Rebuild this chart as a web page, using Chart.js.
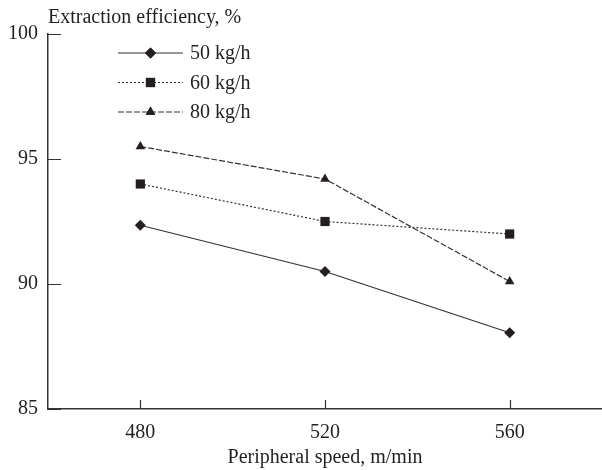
<!DOCTYPE html>
<html lang="en">
<head>
<meta charset="UTF-8">
<title>Extraction efficiency</title>
<script src="https://cdn.jsdelivr.net/npm/chart.js"></script>
<style>
  html, body { margin: 0; padding: 0; background: #fff; }
  #wrap { position: relative; width: 602px; height: 470px; }
</style>
</head>
<body>
<div id="wrap"><canvas id="myChart" width="602" height="470"></canvas></div>
<script>
  // data
  const speeds = [480, 520, 560];
  const feed50 = [92.35, 90.5, 88.05];
  const feed60 = [94.0, 92.5, 92.0];
  const feed80 = [95.5, 94.2, 90.1];
  const seriesNames = ['50 kg/h', '60 kg/h', '80 kg/h'];
  const yTicks = [85, 90, 95, 100];

  const ink = '#231f20';
  const fontFam = '"Liberation Serif", "DejaVu Serif", serif';

  function pts(vals) {
    return speeds.map(function (s, i) { return { x: s, y: vals[i] }; });
  }

  function serie(name, vals, shape, radius, dash) {
    return {
      label: name,
      data: pts(vals),
      borderColor: '#333',
      backgroundColor: ink,
      borderWidth: 1.2,
      borderDash: dash,
      pointStyle: shape,
      pointRadius: radius,
      pointBorderWidth: 0,
      pointBackgroundColor: ink,
      tension: 0
    };
  }

  // inward tick marks + y title + legend with line samples
  const extras = {
    id: 'extras',
    afterDraw: function (chart) {
      const ctx = chart.ctx;
      const a = chart.chartArea;
      const xs = chart.scales.x, ys = chart.scales.y;
      ctx.save();
      ctx.strokeStyle = '#333';
      ctx.lineWidth = 1.2;
      ctx.beginPath();
      yTicks.forEach(function (v) {
        const py = Math.round(ys.getPixelForValue(v)) + 0.5;
        ctx.moveTo(a.left, py);
        ctx.lineTo(a.left + 13, py);
      });
      speeds.forEach(function (v) {
        const px = Math.round(xs.getPixelForValue(v)) + 0.5;
        ctx.moveTo(px, a.bottom);
        ctx.lineTo(px, a.bottom - 9);
      });
      ctx.stroke();

      ctx.fillStyle = ink;
      ctx.font = '20px ' + fontFam;
      ctx.textBaseline = 'middle';
      ctx.textAlign = 'left';
      ctx.fillText('Extraction efficiency, %', a.left, a.top - 16);

      // legend
      chart.data.datasets.forEach(function (ds, i) {
        const y = a.top + 19 + i * 29.5;
        const x0 = a.left + 70, x1 = a.left + 135, xm = (x0 + x1) / 2;
        ctx.strokeStyle = ds.borderColor;
        ctx.lineWidth = ds.borderWidth;
        ctx.setLineDash(ds.borderDash || []);
        ctx.beginPath();
        ctx.moveTo(x0, y);
        ctx.lineTo(x1, y);
        ctx.stroke();
        ctx.setLineDash([]);
        ctx.fillStyle = ink;
        Chart.helpers.drawPoint(ctx, { pointStyle: ds.pointStyle, radius: ds.pointRadius, borderWidth: 0 }, xm, y);
        ctx.fill();
        ctx.fillText(ds.label, x1 + 7, y + 1);
      });
      ctx.restore();
    }
  };

  const dados = {
    datasets: [
      serie(seriesNames[0], feed50, 'rectRot', 5.5, []),
      serie(seriesNames[1], feed60, 'rect', 6.5, [2, 2]),
      serie(seriesNames[2], feed80, 'triangle', 5.5, [6, 2])
    ]
  };

  const config = {
    type: 'line',
    data: dados,
    options: {
      responsive: false,
      animation: false,
      layout: { autoPadding: false, padding: { top: 34, right: 0, left: 0, bottom: 0 } },
      plugins: {
        legend: { display: false },
        tooltip: { enabled: false }
      },
      scales: {
        x: {
          type: 'linear',
          min: 460,
          max: 580,
          afterBuildTicks: function (axis) {
            axis.ticks = speeds.map(function (v) { return { value: v }; });
          },
          afterFit: function (axis) { axis.height = 61; },
          grid: { display: false, drawTicks: false, tickLength: 0 },
          border: { display: true, color: '#333', width: 1.5 },
          ticks: { color: ink, padding: 12, maxRotation: 0, font: { family: fontFam, size: 20 } },
          title: {
            display: true,
            text: 'Peripheral speed, m/min',
            color: ink,
            padding: { top: 0, bottom: 0 },
            font: { family: fontFam, size: 20 }
          }
        },
        y: {
          min: 85,
          max: 100,
          afterBuildTicks: function (axis) {
            axis.ticks = yTicks.map(function (v) { return { value: v }; });
          },
          afterFit: function (axis) { axis.width = 48; },
          grid: { display: false, drawTicks: false, tickLength: 0 },
          border: { display: true, color: '#333', width: 1.5 },
          ticks: { color: ink, padding: 10, font: { family: fontFam, size: 20 } }
        }
      }
    },
    plugins: [extras]
  };

  let myChart = new Chart(document.getElementById('myChart'), config);
</script>
</body>
</html>
